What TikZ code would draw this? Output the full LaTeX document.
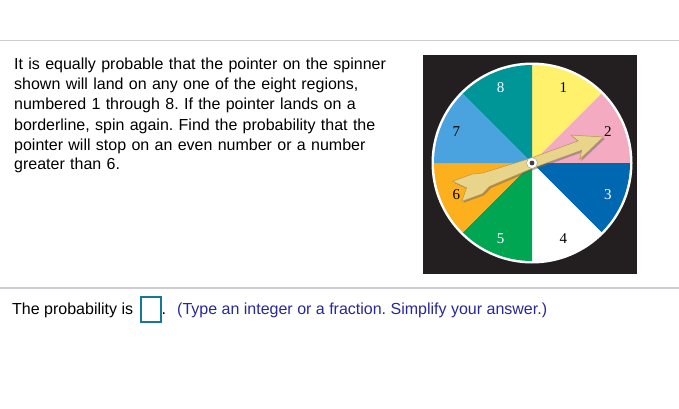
\documentclass[tikz,border=0pt]{standalone}
\usepackage{fontspec}
\setmainfont{Liberation Sans}
\newfontfamily\spinfont{Liberation Serif}
\usetikzlibrary{calc}
\frenchspacing

\definecolor{rulegray}{RGB}{204,206,212}
\definecolor{hintblue}{RGB}{40,40,150}
\definecolor{boxteal}{RGB}{20,120,150}
\definecolor{spinblack}{RGB}{35,31,32}
\definecolor{secyellow}{RGB}{255,241,107}
\definecolor{secpink}{RGB}{244,170,193}
\definecolor{secblue}{RGB}{0,103,177}
\definecolor{secgreen}{RGB}{0,166,81}
\definecolor{secorange}{RGB}{253,176,30}
\definecolor{seclight}{RGB}{74,163,222}
\definecolor{secteal}{RGB}{0,150,152}
\definecolor{pointergold}{RGB}{233,212,140}
\definecolor{pointeredge}{RGB}{180,150,80}

\tikzset{
  pagetext/.style={font=\fontsize{16}{20}\selectfont, inner sep=0pt},
  secnum/.style={font=\spinfont\fontsize{15}{15}\selectfont, inner sep=0pt},
  ansbox/.style={draw=boxteal, line width=1.3pt, minimum width=20pt, minimum height=25pt, inner sep=0pt}
}

\begin{document}
\begin{tikzpicture}[x=1pt, y=1pt]
\useasboundingbox (0,0) rectangle (679,408);

%% rules
\draw[rulegray, line width=1.5pt] (0,367.5) -- (679,367.5);
\draw[rulegray, line width=1.5pt] (0,120) -- (679,120);

%% question
\node[pagetext, anchor=base west, text width=400pt, align=left] (question) at (14,338)
  {It is equally probable that the pointer on the spinner\\
   shown will land on any one of the eight regions,\\
   numbered 1 through 8. If the pointer lands on a\\
   borderline, spin again. Find the probability that the\\
   pointer will stop on an even number or a number\\
   greater than 6.};

%% spinner
\coordinate (hub) at (532,245);
\fill[spinblack] (423,134) rectangle (637,353);
\fill[white] (hub) circle (100.5);
\foreach \from/\col/\num/\ncol in {45/secyellow/1/black, 0/secpink/2/black,
    -45/secblue/3/white, -90/white/4/black, -135/secgreen/5/white,
    -180/secorange/6/black, 135/seclight/7/black, 90/secteal/8/white}
{
  \fill[\col] (hub) -- ++(\from:98) arc (\from:\from+45:98) -- cycle;
  \node[secnum, text=\ncol] (n\num) at ($(hub)+(\from+22.5:82)$) {\num};
}

%% pointer
\begin{scope}[shift={(hub)}, rotate=20]
  \fill[black!60, opacity=0.5, shift={(1,-2)}]
    (76,0) -- (46,-13) -- (51,-5) -- (0,-5) -- (-48,-7.5) -- (-57,-12) -- (-79,-12)
    -- (-70,-1) -- (-81,10) -- (-60,10) -- (-50,7.5) -- (0,5) -- (51,5) -- (46,13) -- cycle;
  \filldraw[fill=pointergold, draw=pointeredge, line width=0.5pt]
    (76,0) -- (46,-13) -- (51,-5) -- (0,-5) -- (-48,-7.5) -- (-57,-12) -- (-79,-12)
    -- (-70,-1) -- (-81,10) -- (-60,10) -- (-50,7.5) -- (0,5) -- (51,5) -- (46,13) -- cycle;
\end{scope}
\filldraw[fill=white, draw=black!40] (hub) circle (5.5);
\fill[black!75] (hub) circle (2.4);

%% answer line
\node[pagetext, anchor=base west] (lead) at (12,94) {The probability is};
\node[ansbox] (answer) at (151,98.5) {};
\node[pagetext, anchor=base west] (dot) at (161.5,94) {.};
\node[pagetext, anchor=base west, text=hintblue] (hint) at (177,94)
  {(Type an integer or a fraction. Simplify your answer.)};
\end{tikzpicture}
\end{document}
